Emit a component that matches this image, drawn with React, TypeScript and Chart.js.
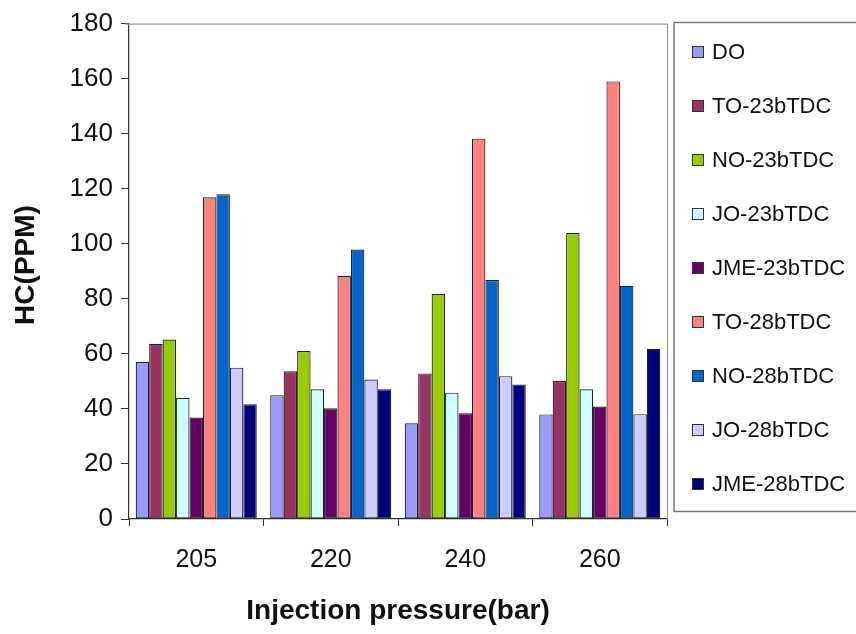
import React, { useEffect, useRef } from "react";
import { Chart, registerables } from "chart.js";

Chart.register(...registerables);

const categories = ["205", "220", "240", "260"];
const seriesNames = [
  "DO",
  "TO-23bTDC",
  "NO-23bTDC",
  "JO-23bTDC",
  "JME-23bTDC",
  "TO-28bTDC",
  "NO-28bTDC",
  "JO-28bTDC",
  "JME-28bTDC",
];
const DO = [57, 45, 34.8, 38];
const TO23 = [63.7, 53.7, 52.9, 50.1];
const NO23 = [65.2, 61, 81.8, 103.9];
const JO23 = [44, 47.1, 45.9, 47.1];
const JME23 = [36.9, 40.2, 38.4, 40.9];
const TO28 = [116.9, 88.4, 138.2, 159];
const NO28 = [118, 97.9, 86.8, 84.7];
const JO28 = [55, 50.7, 51.9, 38.1];
const JME28 = [41.7, 47.1, 48.9, 61.8];
const seriesValues = [DO, TO23, NO23, JO23, JME23, TO28, NO28, JO28, JME28];
const seriesColors = [
  "#9999FF",
  "#993366",
  "#99CC00",
  "#CCFFFF",
  "#660066",
  "#FF8080",
  "#0066CC",
  "#CCCCFF",
  "#000080",
];
const yTicks = { min: 0, max: 180, step: 20 };
const xTitle = "Injection pressure(bar)";
const yTitle = "HC(PPM)";

const FONT = "'Liberation Sans', Arial, sans-serif";

const decorPlugin = {
  id: "decor",
  afterDraw(chart: any) {
    const ctx = chart.ctx;
    const ca = chart.chartArea;
    ctx.save();
    // plot area top/right border
    ctx.strokeStyle = "#9a9a9a";
    ctx.lineWidth = 1.2;
    ctx.beginPath();
    ctx.moveTo(ca.left - 4, ca.top + 0.5);
    ctx.lineTo(ca.right + 0.5, ca.top + 0.5);
    ctx.lineTo(ca.right + 0.5, ca.bottom);
    ctx.stroke();

    // axis titles
    ctx.fillStyle = "#111";
    ctx.font = `bold 28px ${FONT}`;
    ctx.textAlign = "center";
    ctx.textBaseline = "middle";
    ctx.fillText(xTitle, (ca.left + ca.right) / 2, 611);
    ctx.save();
    ctx.translate(26, 265);
    ctx.rotate(-Math.PI / 2);
    ctx.fillText(yTitle, 0, 0);
    ctx.restore();

    // legend box
    const bx = 674,
      by = 22.5,
      bw = 190,
      bh = 489;
    ctx.strokeStyle = "#777";
    ctx.lineWidth = 1.5;
    ctx.strokeRect(bx, by, bw, bh);
    ctx.font = `22px ${FONT}`;
    ctx.textAlign = "left";
    ctx.textBaseline = "middle";
    chart.data.datasets.forEach((ds: any, i: number) => {
      const cy = by + 29.5 + i * 54;
      ctx.fillStyle = ds.backgroundColor;
      ctx.fillRect(692, cy - 6, 12, 12);
      ctx.strokeStyle = "#333";
      ctx.lineWidth = 1;
      ctx.strokeRect(692.5, cy - 5.5, 11, 11);
      ctx.fillStyle = "#111";
      ctx.fillText(ds.label, 712, cy + 1);
    });
    ctx.restore();
  },
};

export default function App() {
  const ref = useRef<HTMLCanvasElement | null>(null);
  useEffect(() => {
    if (!ref.current) return;
    const chart = new Chart(ref.current, {
      type: "bar",
      data: {
        labels: categories,
        datasets: seriesNames.map((name, i) => ({
          label: name,
          data: seriesValues[i],
          backgroundColor: seriesColors[i],
          borderColor: "#222",
          borderWidth: 1.2,
          borderSkipped: false,
          categoryPercentage: 0.9,
          barPercentage: 1,
        })),
      },
      options: {
        animation: false,
        responsive: false,
        maintainAspectRatio: false,
        layout: { padding: { top: 20, right: 189, left: 0, bottom: 0 } },
        plugins: {
          legend: { display: false },
          tooltip: { enabled: false },
        },
        scales: {
          x: {
            grid: {
              offset: true,
              drawOnChartArea: false,
              drawTicks: true,
              tickLength: 7,
              color: "#333",
            },
            border: { color: "#333", width: 1.2 },
            ticks: {
              color: "#111",
              font: { family: FONT, size: 25 },
              padding: 19,
              maxRotation: 0,
            },
            afterFit: (s: any) => {
              s.height = 115;
            },
          },
          y: {
            min: yTicks.min,
            max: yTicks.max,
            grid: {
              drawOnChartArea: false,
              drawTicks: true,
              tickLength: 8,
              color: "#333",
            },
            border: { color: "#333", width: 1.2 },
            ticks: {
              stepSize: yTicks.step,
              color: "#111",
              font: { family: FONT, size: 26 },
              padding: 8,
            },
            afterFit: (s: any) => {
              s.width = 129;
            },
          },
        },
      },
      plugins: [decorPlugin],
    });
    return () => chart.destroy();
  }, []);
  return (
    <div
      style={{
        position: "fixed",
        left: 0,
        top: 0,
        width: 856,
        height: 634,
        background: "#fff",
      }}
    >
      <canvas ref={ref} width={856} height={634} style={{ display: "block" }} />
    </div>
  );
}
